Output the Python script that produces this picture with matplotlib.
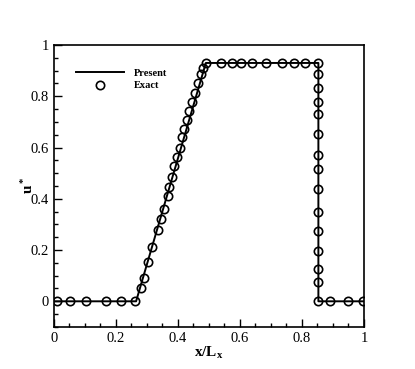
import matplotlib
matplotlib.use("Agg")
import matplotlib.pyplot as plt
from matplotlib.ticker import MultipleLocator

plt.rcParams['font.family'] = ['Liberation Serif', 'DejaVu Serif']
plt.rcParams['mathtext.fontset'] = 'custom'
plt.rcParams['mathtext.rm'] = 'Liberation Serif'
plt.rcParams['mathtext.bf'] = 'Liberation Serif:bold'
plt.rcParams['mathtext.it'] = 'Liberation Serif:italic'

# numerical solution (Present)
present_x = [0.0, 0.265, 0.490, 0.853, 0.853, 1.0]
present_y = [0.0, 0.0, 0.930, 0.930, 0.0, 0.0]

# exact solution points
exact_x = [0.010, 0.053, 0.102, 0.167, 0.216, 0.262,
           0.280, 0.289, 0.303, 0.317, 0.335, 0.345, 0.354, 0.367, 0.372, 0.382,
           0.388, 0.397, 0.405, 0.413, 0.420, 0.428, 0.436, 0.445, 0.455, 0.464,
           0.473, 0.480, 0.489,
           0.538, 0.574, 0.604, 0.638, 0.684, 0.735, 0.774, 0.811, 0.853,
           0.853, 0.853, 0.853, 0.853, 0.853, 0.853, 0.853, 0.853, 0.853, 0.853,
           0.853, 0.853, 0.853, 0.853,
           0.890, 0.949, 0.998]
exact_y = [0, 0, 0, 0, 0, 0,
           0.052, 0.091, 0.153, 0.213, 0.279, 0.323, 0.362, 0.409, 0.446, 0.484,
           0.526, 0.563, 0.599, 0.642, 0.674, 0.708, 0.744, 0.779, 0.814, 0.851,
           0.887, 0.909, 0.929,
           0.93, 0.93, 0.93, 0.93, 0.93, 0.93, 0.93, 0.93, 0.93,
           0.887, 0.832, 0.779, 0.732, 0.654, 0.572, 0.516, 0.438, 0.347, 0.276,
           0.196, 0.127, 0.077, 0.0,
           0, 0, 0]

fig = plt.figure(figsize=(4.15, 3.69), dpi=100)
ax = fig.add_axes([0.130, 0.114, 0.747, 0.764])

ax.plot(present_x, present_y, color='black', lw=1.4, label='Present')
ax.plot(exact_x, exact_y, ls='none', marker='o', ms=6, mfc='none',
        mec='black', mew=1.2, label='Exact')

ax.set_xlim(0, 1)
ax.set_ylim(-0.1, 1)
ax.xaxis.set_minor_locator(MultipleLocator(0.05))
ax.yaxis.set_minor_locator(MultipleLocator(0.05))
ax.set_xticks([0, 0.2, 0.4, 0.6, 0.8, 1.0])
ax.set_xticklabels(['0', '0.2', '0.4', '0.6', '0.8', '1'])
ax.set_yticks([0, 0.2, 0.4, 0.6, 0.8, 1.0])
ax.set_yticklabels(['0', '0.2', '0.4', '0.6', '0.8', '1'])
ax.tick_params(which='both', direction='in', top=False, right=False, labelsize=10.5, width=1)
ax.tick_params(which='major', length=6)
ax.tick_params(which='minor', length=3)
for s in ax.spines.values():
    s.set_linewidth(1.2)

ax.set_xlabel(r'$\mathbf{x/L_x}$', fontsize=11, labelpad=0)
ax.set_ylabel(r'$\mathbf{u^*}$', fontsize=11, labelpad=-4)

ax.legend(loc='upper left', bbox_to_anchor=(0.04, 0.95), frameon=False,
          prop={'weight': 'bold', 'size': 7.5}, handlelength=4.6,
          handletextpad=1.0, labelspacing=0.3)

fig.savefig('out.png', dpi=100)
